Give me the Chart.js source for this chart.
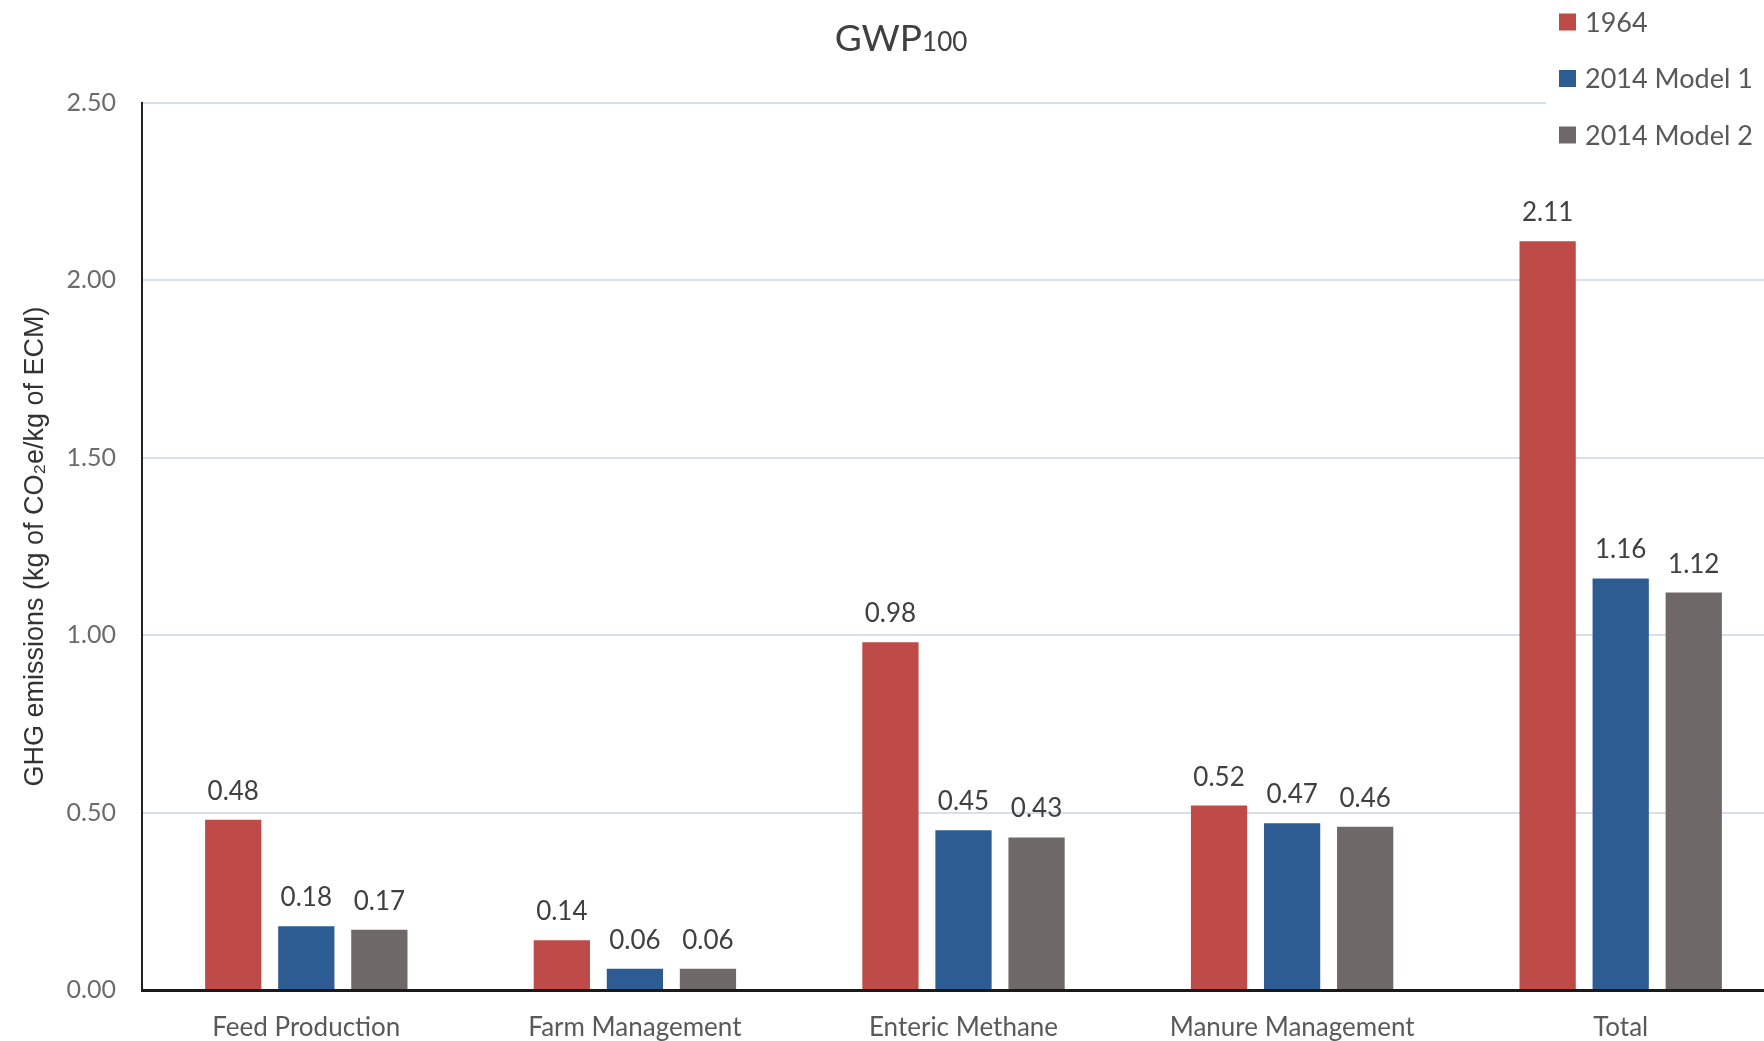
<!DOCTYPE html>
<html lang="en">

<head>
  <meta charset="UTF-8">
  <meta name="viewport" content="width=device-width, initial-scale=1.0">
  <script src="https://cdn.jsdelivr.net/npm/chart.js"></script>
  <title>GWP100</title>
  <style>
    html, body { margin: 0; padding: 0; background: #fff; overflow: hidden; }
    #wrap { width: 1785px; height: 1041px; }
  </style>
</head>

<body>
  <div id="wrap">
    <canvas id="myChart" width="1785" height="1041"></canvas>
  </div>

  <script>
    // emission sources along the x axis
    const categories = ['Feed Production', 'Farm Management', 'Enteric Methane', 'Manure Management', 'Total'];

    // kg CO2e per kg ECM
    const values1964 = [0.48, 0.14, 0.98, 0.52, 2.11];
    const valuesModel1 = [0.18, 0.06, 0.45, 0.47, 1.16];
    const valuesModel2 = [0.17, 0.06, 0.43, 0.46, 1.12];

    const yTicks = [0, 0.5, 1, 1.5, 2, 2.5];

    const labelFont = 'Lato';

    // numbers printed over every bar
    const barValues = {
      id: 'barValues',
      afterDatasetsDraw(chart) {
        const ctx = chart.ctx;
        ctx.save();
        ctx.font = '26px ' + labelFont;
        ctx.fillStyle = '#404040';
        ctx.textAlign = 'center';
        ctx.textBaseline = 'alphabetic';
        chart.data.datasets.forEach((ds, i) => {
          chart.getDatasetMeta(i).data.forEach((bar, j) => {
            ctx.fillText(ds.data[j].toFixed(2), bar.x, bar.y - 20);
          });
        });
        ctx.restore();
      }
    };

    // "GWP" with a smaller "100" on the same baseline
    const gwpTitle = {
      id: 'gwpTitle',
      afterDraw(chart) {
        const ctx = chart.ctx;
        ctx.save();
        ctx.fillStyle = '#404040';
        ctx.textBaseline = 'alphabetic';
        ctx.font = '37px ' + labelFont;
        const w1 = ctx.measureText('GWP').width;
        ctx.font = '26px ' + labelFont;
        const w2 = ctx.measureText('100').width;
        const x0 = 901 - (w1 + w2) / 2;
        ctx.font = '37px ' + labelFont;
        ctx.fillText('GWP', x0, 51);
        ctx.font = '26px ' + labelFont;
        ctx.fillText('100', x0 + w1, 51);
        ctx.restore();
      }
    };

    // stacked legend in the top right corner
    const cornerLegend = {
      id: 'cornerLegend',
      afterDraw(chart) {
        const ctx = chart.ctx;
        ctx.save();
        ctx.fillStyle = '#fff';
        ctx.fillRect(1546, 0, chart.width - 1546, 160);
        ctx.font = '27px ' + labelFont;
        ctx.textBaseline = 'middle';
        chart.data.datasets.forEach((ds, i) => {
          const cy = 22 + i * 56.5;
          ctx.fillStyle = ds.backgroundColor;
          ctx.fillRect(1559, cy - 8.5, 17, 17);
          ctx.fillStyle = '#595959';
          ctx.fillText(ds.label, 1585, cy + 1);
        });
        ctx.restore();
      }
    };

    const data = {
      labels: categories,
      datasets: [
        { label: '1964', data: values1964, backgroundColor: 'rgb(190, 75, 72)' },
        { label: '2014 Model 1', data: valuesModel1, backgroundColor: 'rgb(44, 92, 145)' },
        { label: '2014 Model 2', data: valuesModel2, backgroundColor: 'rgb(110, 104, 104)' }
      ]
    };

    const config = {
      type: 'bar',
      data: data,
      plugins: [barValues, gwpTitle, cornerLegend],
      options: {
        responsive: false,
        animation: false,
        devicePixelRatio: 1,
        layout: { padding: { top: 103, right: 0, bottom: 0, left: 0 } },
        datasets: {
          bar: { categoryPercentage: 0.667, barPercentage: 0.77 }
        },
        plugins: {
          legend: { display: false },
          title: { display: false },
          tooltip: { enabled: false }
        },
        scales: {
          x: {
            grid: { display: false },
            border: { display: true, color: '#1a1a1a', width: 3 },
            ticks: {
              color: '#595959',
              font: { family: labelFont, size: 26 },
              padding: 14,
              maxRotation: 0
            },
            afterFit: (s) => { s.height = 51; }
          },
          y: {
            min: 0,
            max: 2.5,
            afterBuildTicks: (s) => { s.ticks = yTicks.map(v => ({ value: v })); },
            grid: { color: '#d6e0ea', lineWidth: 2, drawTicks: false },
            border: { display: true, color: '#222', width: 2 },
            ticks: {
              color: '#6b6b6b',
              font: { family: labelFont, size: 25 },
              padding: 26,
              callback: (v) => Number(v).toFixed(2)
            },
            title: {
              display: true,
              text: 'GHG emissions (kg of CO₂e/kg of ECM)',
              color: '#333',
              font: { family: 'Liberation Sans', size: 27 },
              padding: { top: 19, bottom: 0 }
            },
            afterFit: (s) => { s.width = 142; }
          }
        }
      }
    };

    const myChart = new Chart(document.getElementById('myChart'), config);
  </script>
</body>

</html>
